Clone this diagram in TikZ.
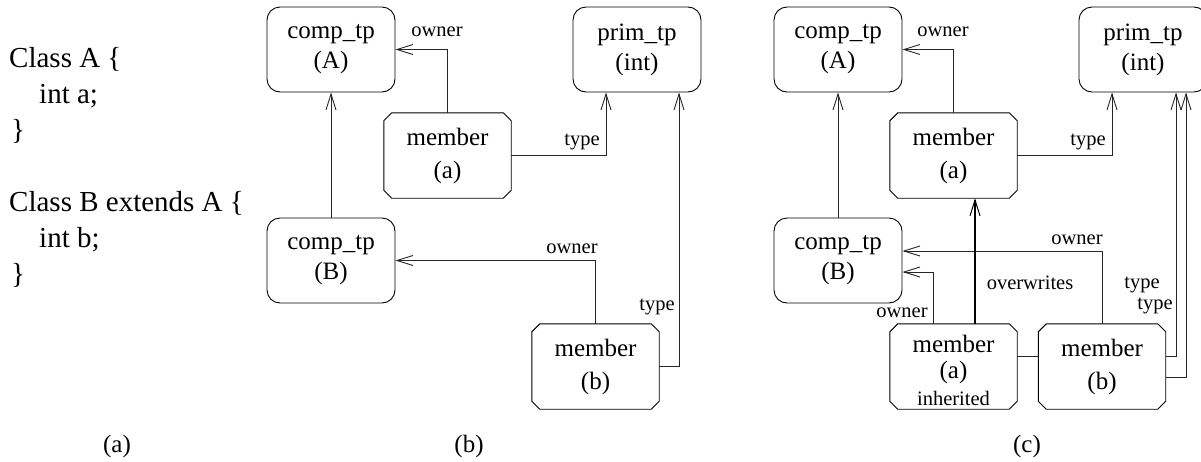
\documentclass[tikz,border=0pt]{standalone}
\usepackage{fontspec}
\setmainfont{Liberation Serif}
\usetikzlibrary{arrows.meta}

\tikzset{
  typebox/.style={draw=black, line width=0.9pt, rounded corners=13pt,
    minimum width=128pt, minimum height=85pt, inner sep=0pt, align=center,
    font=\fontsize{25}{30}\selectfont},
  memberbox/.style={minimum width=127pt, minimum height=85pt, inner sep=0pt,
    align=center, font=\fontsize{25}{33}\selectfont},
  octline/.style={draw=black, line width=0.9pt},
  lbl/.style={inner sep=0pt, font=\fontsize{20.5}{24}\selectfont},
  codeline/.style={inner sep=0pt, anchor=base west, font=\fontsize{29}{36}\selectfont},
  caption/.style={inner sep=0pt, font=\fontsize{25}{30}\selectfont},
  conn/.style={draw=black!85, line width=0.9pt},
  arr/.style={conn, -{Straight Barb[length=16pt,width=10pt]}},
  heavyarr/.style={draw=black, line width=2pt, -{Straight Barb[length=16pt,width=10pt,line width=1pt]}},
}

\begin{document}
\begin{tikzpicture}[x=1pt, y=-1pt]
  \useasboundingbox (0,0) rectangle (1201,461);

  % (a) source code
  \node[codeline] (c1) at (9,67.5)    {Class A \{};
  \node[codeline] (c2) at (39,103.5)  {int a;};
  \node[codeline] (c3) at (11,139.5)  {\}};
  \node[codeline] (c4) at (9,211.5)   {Class B extends A \{};
  \node[codeline] (c5) at (39,247.5)  {int b;};
  \node[codeline] (c6) at (11,283.5)  {\}};

  % (b) without inheritance resolution
  \node[typebox]   (cAb) at (331,49.5)    {comp\_tp\\(A)};
  \node[typebox]   (pIb) at (637,49.5)    {prim\_tp\\(int)};
  \node[memberbox] (mAb) at (447.5,155.5) {member\\(a)};
  \node[typebox]   (cBb) at (331,260.5)   {comp\_tp\\(B)};
  \node[memberbox] (mBb) at (595.5,366.5) {member\\(b)};

  % (c) with inherited member
  \node[typebox]   (cAc)  at (838,49.5)    {comp\_tp\\(A)};
  \node[typebox]   (pIc)  at (1143,49.5)   {prim\_tp\\(int)};
  \node[memberbox] (mAc)  at (953.5,155.5) {member\\(a)};
  \node[typebox]   (cBc)  at (838,260.5)   {comp\_tp\\(B)};
  \node[memberbox] (mAic) at (953.5,366.5) {\rule{0pt}{26pt}member\\[-7pt](a)\\[-6pt]{\fontsize{20.5}{24}\selectfont inherited}};
  \node[memberbox] (mBc)  at (1102,366.5)  {member\\(b)};

  % chamfered outlines of the member boxes
  \foreach \n in {mAb,mBb,mAc,mAic,mBc}{
    \draw[octline] ([xshift=8pt]\n.north west) -- ([xshift=-8pt]\n.north east)
      -- ([yshift=-8pt]\n.north east) -- ([yshift=8pt]\n.south east)
      -- ([xshift=-8pt]\n.south east) -- ([xshift=8pt]\n.south west)
      -- ([yshift=8pt]\n.south west) -- ([yshift=-8pt]\n.north west) -- cycle;
  }

  % connectors (b)
  \draw[arr] (mAb.north) |- (cAb.east);
  \draw[arr] (mAb.east) -| ([xshift=-31pt]pIb.south);
  \draw[arr] (cBb.north) -- (cAb.south);
  \draw[arr] (mBb.north) |- (cBb.east);
  \draw[arr] (mBb.east) -| ([xshift=42pt]pIb.south);

  % connectors (c)
  \draw[arr] (mAc.north) |- (cAc.east);
  \draw[arr] (mAc.east) -| ([xshift=-31pt]pIc.south);
  \draw[arr] (cBc.north) -- (cAc.south);
  \draw[arr] (mBc.north) |- ([yshift=9.5pt]cBc.east);
  \draw[arr] ([xshift=-20.5pt]mAic.north) |- ([yshift=-11.5pt]cBc.east);
  \draw[heavyarr] ([xshift=21.5pt]mAic.north) -- ([xshift=21.5pt]mAc.south);
  \draw[conn] ([yshift=10.5pt]mAic.east) -- ([yshift=10.5pt]mBc.west);
  \draw[arr] ([yshift=10.5pt]mBc.east) -| ([xshift=33pt]pIc.south);
  \draw[arr] ([yshift=-10.5pt]mBc.east) -| ([xshift=43pt]pIc.south);

  % edge labels (b)
  \node[lbl] (lb1) at (437,32)  {owner};
  \node[lbl] (lb2) at (582,142) {type};
  \node[lbl] (lb3) at (572,249) {owner};
  \node[lbl] (lb4) at (657,307) {type};

  % edge labels (c)
  \node[lbl] (lc1) at (943,32)   {owner};
  \node[lbl] (lc2) at (1088,142) {type};
  \node[lbl] (lc3) at (1077,240) {owner};
  \node[lbl] (lc4) at (902,313)  {owner};
  \node[lbl] (lc5) at (1030,283) {overwrites};
  \node[lbl] (lc6) at (1142,285) {type};
  \node[lbl] (lc7) at (1155,306) {type};

  % sub-figure captions
  \node[caption] (capa) at (117,446)  {(a)};
  \node[caption] (capb) at (469,446)  {(b)};
  \node[caption] (capc) at (1027,446) {(c)};
\end{tikzpicture}
\end{document}
